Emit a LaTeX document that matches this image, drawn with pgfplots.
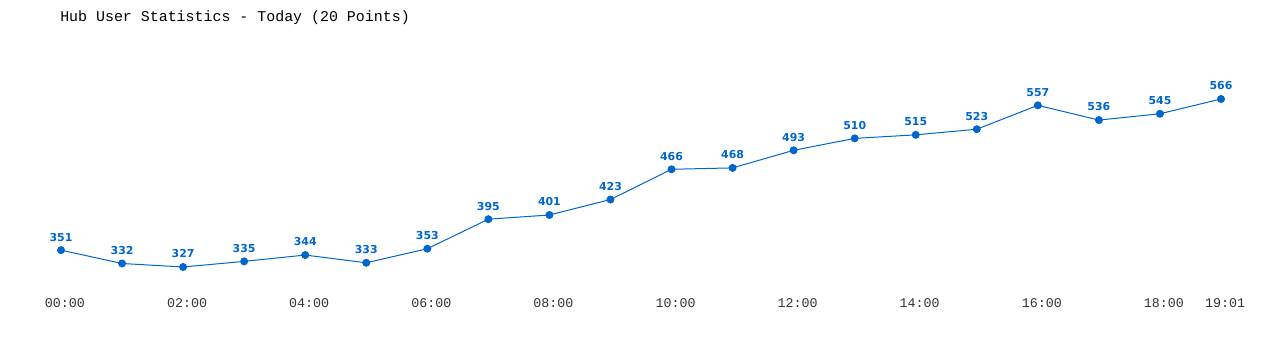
\documentclass[border=0pt]{standalone}
\usepackage{pgfplots}
\pgfplotsset{compat=1.18}
\usepackage{fontspec}
\setmainfont{Liberation Mono}
\newfontfamily\labfont{DejaVu Sans}
\definecolor{lineblue}{HTML}{0066CC}
\definecolor{ticktext}{HTML}{333333}
\begin{document}
\begin{tikzpicture}
\useasboundingbox (0,0) rectangle (960pt,262.5pt);
\node[anchor=west, inner sep=0pt, text=black, font=\fontsize{11.2}{13}\selectfont] at (45pt,249pt) {Hub User Statistics - Today (20 Points)};
\begin{axis}[
  at={(45.75pt,62.25pt)}, anchor=south west,
  scale only axis,
  width=870pt, height=126pt,
  xmin=0, xmax=19, ymin=327, ymax=566,
  axis line style={draw=none},
  clip=false,
  xtick={0,2,4,6,8,10,12,14,16,18,19},
  xticklabels={00:00,02:00,04:00,06:00,08:00,10:00,12:00,14:00,16:00,18:00,19:01},
  ytick=\empty,
  major tick length=0pt,
  tick style={draw=none},
  xticklabel style={font=\fontsize{10}{12}\selectfont, text=ticktext, yshift=-20.5pt, xshift=3pt},
  /pgf/number format/assume math mode=true,
  nodes near coords,
  nodes near coords style={font=\labfont\bfseries\fontsize{8.2}{9.8}\selectfont, text=lineblue, anchor=south, yshift=3pt},
]
\addplot[color=lineblue, line width=0.75pt, mark=*, mark size=2.6pt, mark options={fill=lineblue, draw=lineblue}] coordinates {
(0,351) (1,332) (2,327) (3,335) (4,344) (5,333) (6,353) (7,395) (8,401) (9,423)
(10,466) (11,468) (12,493) (13,510) (14,515) (15,523) (16,557) (17,536) (18,545) (19,566)
};
\end{axis}
\end{tikzpicture}
\end{document}
